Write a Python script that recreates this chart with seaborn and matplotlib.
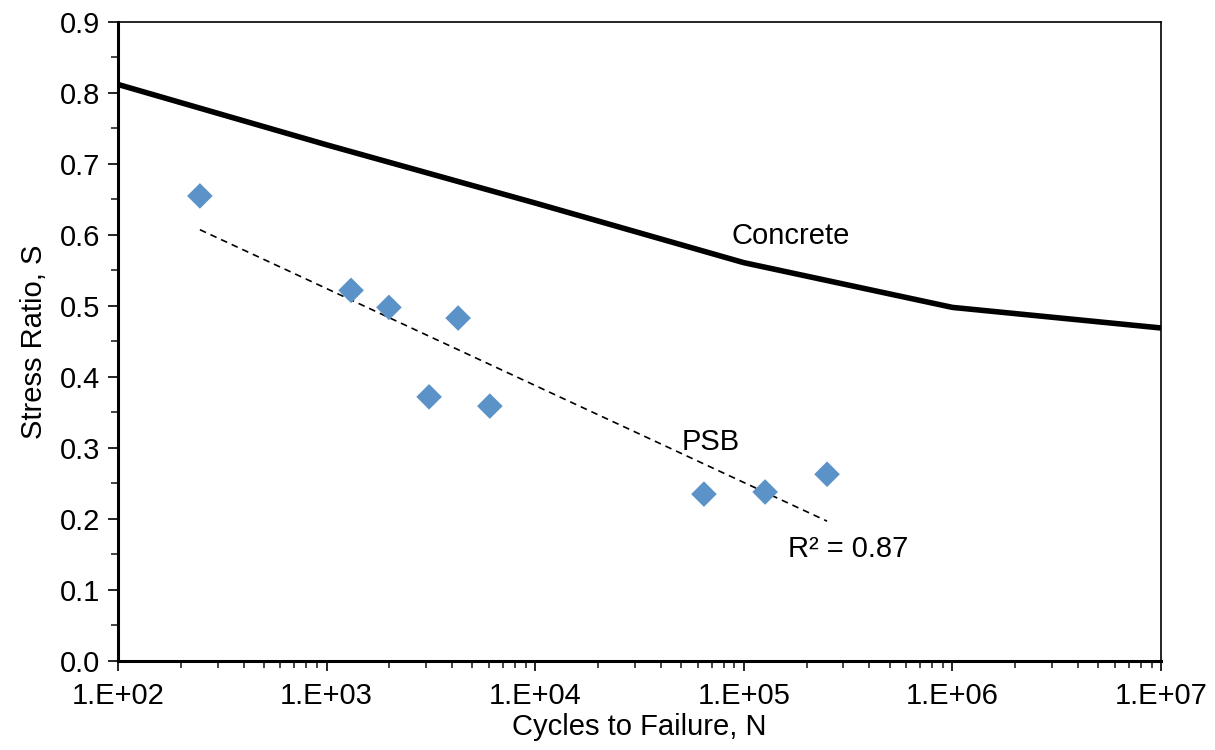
import numpy as np
import pandas as pd
import matplotlib
matplotlib.use("Agg")
import matplotlib.pyplot as plt
import seaborn as sns
from matplotlib.ticker import FixedLocator, LogLocator, NullFormatter, MultipleLocator, FuncFormatter

# Data
concrete_N = [1e2, 1e3, 1e4, 1e5, 1e6, 1e7]
concrete_S = [0.812, 0.727, 0.645, 0.561, 0.498, 0.469]
psb_N = [247, 1310, 1990, 4270, 3100, 6060, 64400, 126500, 250600]
psb_S = [0.655, 0.522, 0.498, 0.483, 0.372, 0.359, 0.235, 0.238, 0.263]
xtick_vals = [1e2, 1e3, 1e4, 1e5, 1e6, 1e7]
xtick_labels = ["1.E+02", "1.E+03", "1.E+04", "1.E+05", "1.E+06", "1.E+07"]

sns.set_theme(style="white")
plt.rcParams['font.family'] = ['Liberation Sans', 'DejaVu Sans']

FS = 21

fig = plt.figure(figsize=(12.15, 7.5), dpi=100)
ax = fig.add_axes([0.0971, 0.1187, 0.8585, 0.852])

df_c = pd.DataFrame({"N": concrete_N, "S": concrete_S})
df_p = pd.DataFrame({"N": psb_N, "S": psb_S})

sns.lineplot(data=df_c, x="N", y="S", ax=ax, color="black", linewidth=4, sort=True)
sns.scatterplot(data=df_p, x="N", y="S", ax=ax, marker="D", s=170, color="#5b93c8",
                edgecolor="none", zorder=3)

# log trendline
lx = np.log10(psb_N)
b, a = np.polyfit(lx, psb_S, 1)
xs = np.array([min(psb_N), max(psb_N)])
ax.plot(xs, a + b * np.log10(xs), color="black", linestyle=(0, (4, 3)), linewidth=1.2, zorder=2)

ax.set_xscale("log")
ax.set_xlim(1e2, 1e7)
ax.set_ylim(0, 0.9)
ax.xaxis.set_major_locator(FixedLocator(xtick_vals))
ax.set_xticklabels(xtick_labels)
ax.xaxis.set_minor_locator(LogLocator(base=10, subs=np.arange(2, 10)))
ax.xaxis.set_minor_formatter(NullFormatter())
ax.yaxis.set_major_locator(MultipleLocator(0.1))
ax.yaxis.set_minor_locator(MultipleLocator(0.05))
ax.yaxis.set_major_formatter(FuncFormatter(lambda v, p: f"{v:.1f}"))

ax.tick_params(axis="both", which="major", direction="out", length=7, width=1.2,
               labelsize=FS, colors="black", bottom=True, left=True)
ax.tick_params(axis="both", which="minor", direction="out", length=5, width=1.2,
               bottom=True, left=True)
ax.tick_params(axis="x", which="major", pad=8)
ax.tick_params(axis="y", which="major", pad=6)
for sp in ax.spines.values():
    sp.set_color("black")
    sp.set_linewidth(1.2)
ax.spines["bottom"].set_linewidth(2.2)
ax.spines["left"].set_linewidth(2.2)

ax.set_xlabel("Cycles to Failure, N", fontsize=FS, color="black", labelpad=2)
ax.set_ylabel("Stress Ratio, S", fontsize=FS, color="black", labelpad=8)

ax.text(1.68e5, 0.599, "Concrete", fontsize=FS, ha="center", va="center", color="black")
ax.text(6.97e4, 0.308, "PSB", fontsize=FS, ha="center", va="center", color="black")
ax.text(1.63e5, 0.158, "R² = 0.87", fontsize=FS, ha="left", va="center", color="black")

fig.savefig("out.png", dpi=100)
